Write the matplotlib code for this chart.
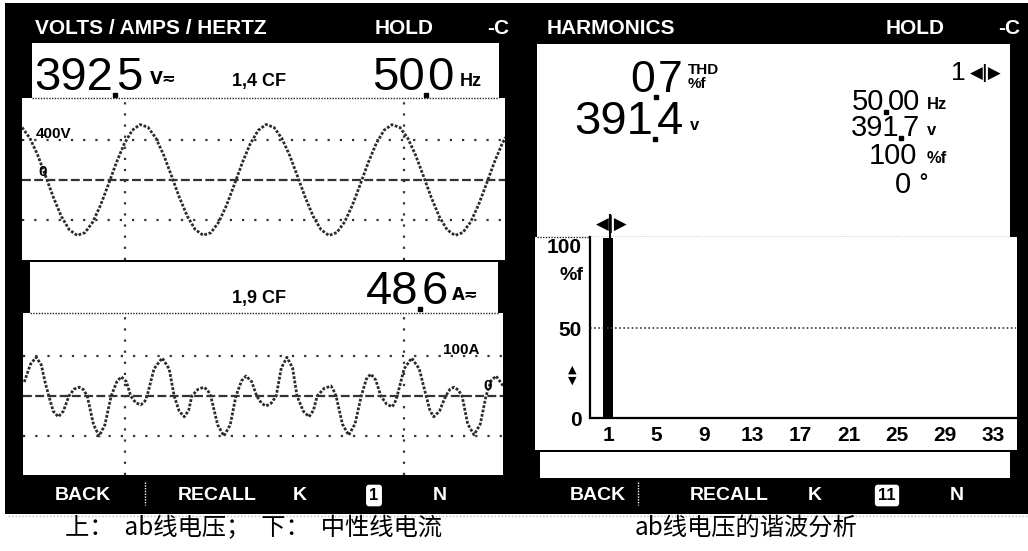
import numpy as np
import matplotlib
matplotlib.use("Agg")
import matplotlib.pyplot as plt
from matplotlib.patches import Rectangle

W, H = 1028, 551

# --- data ---
# upper trace: ab line voltage (V), one sample every 1.25 ms
volt_step_ms = 1.25
volt_v = [526, 419, 248, 39, -176, -364, -497, -554, -526, -419, -248, -39, 176, 364, 497, 554,
          528, 420, 250, 40, -175, -362, -495, -552, -527, -420, -250, -40, 175, 363, 496, 555,
          527, 418, 247, 38, -177, -365, -498, -555, -525, -418, -247, -38, 177, 365, 498, 553,
          526, 419, 249, 39, -176, -364, -497, -554, -526, -419, -248, -39, 176, 364, 497]

# lower trace: neutral current (A) vs time (ms)
cur_t = [0.2, 1.2, 2.1, 2.9, 3.5, 4.1, 4.8, 5.6, 6.4, 7.3,
         8.1, 8.9, 9.6, 10.2, 11.2, 12.1, 13.0, 14.0, 14.9, 15.6,
         16.4, 17.1, 17.9, 18.7, 19.3, 19.7, 20.8, 22.1, 23.2, 24.0,
         24.8, 25.6, 26.3, 26.8, 27.8, 28.7, 29.3, 29.8, 30.9, 31.9,
         32.9, 33.8, 34.7, 35.4, 36.3, 37.1, 37.9, 38.6, 39.4, 40.2,
         41.0, 41.9, 42.8, 43.5, 44.5, 45.4, 46.1, 46.7, 47.8, 48.9,
         49.3, 49.7, 50.7, 51.7, 52.7, 53.7, 54.5, 55.2, 56.0, 56.8,
         57.7, 58.6, 59.0, 59.4, 60.5, 61.7, 62.9, 64.0, 64.6, 65.2,
         66.1, 67.1, 67.8, 68.4, 69.1, 69.7, 70.6, 71.6, 72.6, 73.5,
         74.3, 75.1, 76.7]
cur_a = [35, 80, 97, 78, 35, 0, -38, -52, -38, 0,
         17, 22, 16, 0, -72, -100, -72, 0, 36, 48,
         36, 0, -17, -22, -14, 0, 68, 95, 68, 0,
         -38, -52, -36, 0, 17, 22, 15, 0, -72, -100,
         -72, 0, 38, 50, 36, 0, -19, -25, -18, 0,
         70, 97, 70, 0, -38, -52, -36, 0, 19, 25,
         14, 0, -70, -98, -70, 0, 42, 55, 40, 0,
         -20, -27, -18, 0, 68, 95, 68, 0, -36, -52,
         -38, 0, 17, 22, 15, 0, -70, -97, -70, 0,
         38, 50, 15]

# harmonic spectrum of the ab voltage (% of fundamental)
harm_order = list(range(1, 34))
harm_pct = [100, 0, 0, 0, 0, 0, 0, 0, 0, 0, 0, 0, 0, 0, 0, 0, 0,
            0, 0, 0, 0, 0, 0, 0, 0, 0, 0, 0, 0, 0, 0, 0, 0]
harm_ticks = [1, 5, 9, 13, 17, 21, 25, 29, 33]

LCD = ['Liberation Sans', 'DejaVu Sans']
SYM = ['DejaVu Sans']
CJK = ['Noto Sans CJK SC', 'DejaVu Sans']
TRACE = '#2b2b2b'
GRID = '#333333'

fig = plt.figure(figsize=(W / 100, H / 100), dpi=100, facecolor='white')


def px_axes(x0, y0, x1, y1):
    return fig.add_axes([x0 / W, 1 - y1 / H, (x1 - x0) / W, (y1 - y0) / H])


bg = px_axes(0, 0, W, H)
bg.set_xlim(0, W)
bg.set_ylim(H, 0)
bg.axis('off')


def box(x0, y0, x1, y1, color='white'):
    bg.add_patch(Rectangle((x0, y0), x1 - x0, y1 - y0, facecolor=color, edgecolor='none'))


box(5, 3, W, 514, 'black')
# left screen
box(32, 43, 499, 98)
box(22, 98, 505, 260)
box(30, 262, 498, 313)
box(23, 313, 503, 475)
# right screen
box(537, 44, 1010, 237)
box(535, 237, 1017, 450)
box(540, 452, 1010, 478)

for y, xa, xb in [(98, 32, 499), (313, 30, 498), (237, 537, 1010)]:
    bg.plot([xa, xb], [y, y], color='#222222', lw=1, ls=(0, (1, 1)))
bg.plot([8, W], [516, 516], color='#bbbbbb', lw=1, ls=(0, (1, 1.5)))
bg.plot([145, 145], [482, 505], color='white', lw=1, ls=(0, (1, 1)))
bg.plot([638, 638], [482, 505], color='white', lw=1, ls=(0, (1, 1)))

# --- voltage trace ---
ax1 = px_axes(22, 98, 505, 260)
t_v = np.arange(len(volt_v)) * volt_step_ms
ax1.plot(t_v, volt_v, color=TRACE, lw=2, ls=(0, (1, 0.6)))
ax1.set_xlim(0, 76.7)
ax1.set_ylim(-800, 820)
for v in (400, -400):
    ax1.axhline(v, color=GRID, lw=1.6, ls=(0, (1, 4.5)))
ax1.axhline(0, color=GRID, lw=1.6, ls=(0, (4, 1.5)))
for tv in (16.3, 60.6):
    ax1.axvline(tv, color=GRID, lw=1.6, ls=(0, (1, 4)))
ax1.axis('off')

# --- current trace ---
ax2 = px_axes(23, 313, 503, 475)
ax2.plot(cur_t, cur_a, color=TRACE, lw=2, ls=(0, (1, 0.6)))
ax2.set_xlim(0, 76.2)
ax2.set_ylim(-197.5, 207.5)
for a in (100, -100):
    ax2.axhline(a, color=GRID, lw=1.6, ls=(0, (1, 4.5)))
ax2.axhline(0, color=GRID, lw=1.6, ls=(0, (4, 1.5)))
for tv in (16.2, 60.5):
    ax2.axvline(tv, color=GRID, lw=1.6, ls=(0, (1, 4)))
ax2.axis('off')

# --- harmonics bar chart ---
ax3 = px_axes(590, 237, 1016, 418)
ax3.bar(harm_order, harm_pct, width=0.83, color='black')
ax3.set_xlim(-0.5, 34.9)
ax3.set_ylim(0, 100.6)
ax3.set_facecolor('white')
ax3.axhline(50, color=GRID, lw=1.2, ls=(0, (1, 1.5)))
for s in ('top', 'right'):
    ax3.spines[s].set_visible(False)
for s in ('left', 'bottom'):
    ax3.spines[s].set_linewidth(1.6)
ax3.set_xticks(harm_ticks)
ax3.set_xticklabels([str(h) for h in harm_ticks], family=LCD, fontweight='bold', fontsize=15)
ax3.set_yticks([0, 50, 100])
ax3.set_yticklabels(['0', '50', '100'], family=LCD, fontweight='bold', fontsize=15)
ax3.tick_params(length=0, pad=6)
ax3.get_yticklabels()[2].set_va('top')

# --- overlay text ---
ov = px_axes(0, 0, W, H)
ov.set_xlim(0, W)
ov.set_ylim(H, 0)
ov.axis('off')
ov.patch.set_alpha(0)


def put(x, y, s, size, color='white', ha='left', va='baseline', weight='bold', family=LCD):
    ov.text(x, y, s, fontsize=size, color=color, ha=ha, va=va, fontweight=weight, family=family)


def reading(dot_x, base, whole, frac, size, drop=5, ms=3):
    put(dot_x - 1.5, base, whole, size, 'black', ha='right', weight='normal')
    put(dot_x + 1.5, base, frac, size, 'black', ha='left', weight='normal')
    ov.plot([dot_x], [base + drop], 's', color='black', ms=ms)


# headers
put(35, 34, 'VOLTS / AMPS / HERTZ', 15)
put(375, 34, 'HOLD', 15)
put(487, 34, '-C', 15)
put(547, 34, 'HARMONICS', 15)
put(886, 34, 'HOLD', 15)
put(998, 34, '-C', 15)

# left readouts
reading(115, 90, '392', '5', 34)
put(150, 84, 'V≂', 12, 'black', family=SYM)
put(232, 86, '1,4 CF', 13, 'black')
reading(426, 90, '50', '0', 34)
put(460, 86, 'Hz', 13, 'black')
put(36, 138, '400V', 11, 'black')
put(38, 176, '0', 11, 'black')

put(232, 303, '1,9 CF', 13, 'black')
reading(420, 304, '48', '6', 34)
put(452, 300, 'A≂', 12, 'black', family=SYM)
put(443, 354, '100A', 11, 'black')
put(483, 390, '0', 11, 'black')

# right readouts
reading(656, 92, '0', '7', 32)
put(688, 74, 'THD', 11, 'black')
put(688, 88, '%f', 11, 'black')
reading(655, 134, '391', '4', 34)
put(690, 130, 'v', 12, 'black')

put(966, 80, '1', 19, 'black', ha='right', weight='normal')
put(970, 78, '◀|▶', 12, 'black', family=SYM)
reading(886, 110, '50', '00', 21, drop=2, ms=2.5)
put(927, 109, 'Hz', 12, 'black')
reading(901, 136, '391', '7', 21, drop=2, ms=2.5)
put(927, 135, 'v', 12, 'black')
put(917, 164, '100', 21, 'black', ha='right', weight='normal')
put(927, 163, '%f', 12, 'black')
put(911, 193, '0', 21, 'black', ha='right', weight='normal')
put(918, 188, '°', 14, 'black', family=SYM)

# harmonic cursor and y-axis extras
put(612, 229, '◀|▶', 12, 'black', ha='center', family=SYM)
ov.plot([610, 610], [215, 238], color='black', lw=1.5)
put(583, 280, '%f', 14, 'black', ha='right')
put(572, 384, '▲\n▼', 8, 'black', ha='center', family=SYM)

# soft-key menu
for x, s in [(55, 'BACK'), (178, 'RECALL'), (293, 'K'), (433, 'N'),
             (570, 'BACK'), (690, 'RECALL'), (808, 'K'), (950, 'N')]:
    put(x, 500, s, 14)
for x, s in [(374, '1'), (887, '11')]:
    ov.text(x, 500, s, fontsize=12, color='black', ha='center', va='baseline', fontweight='bold',
            family=LCD, bbox=dict(boxstyle='round,pad=0.2', facecolor='white', edgecolor='none'))

# captions
ov.text(65, 528, '上：  ab线电压；  下：  中性线电流', fontsize=17.5, color='black', va='center', family=CJK)
ov.text(635, 528, 'ab线电压的谐波分析', fontsize=17.5, color='black', va='center', family=CJK)

fig.savefig('out.png', dpi=100, facecolor='white')
